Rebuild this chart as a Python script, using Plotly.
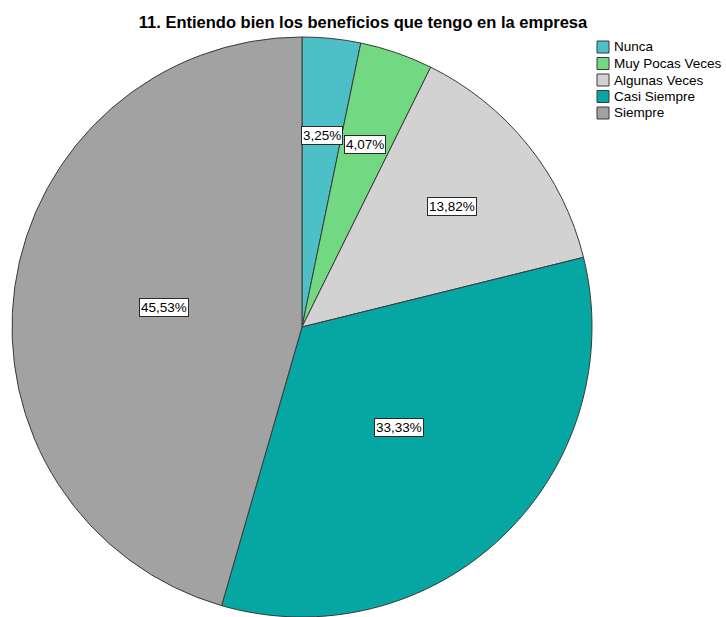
import math
import plotly.graph_objects as go

# Survey answers and their shares (%)
categories = ["Nunca", "Muy Pocas Veces", "Algunas Veces", "Casi Siempre", "Siempre"]
percentages = [3.25, 4.07, 13.82, 33.33, 45.53]
colors = ["#4cc0c6", "#72d982", "#d2d2d2", "#06a6a2", "#a2a2a2"]

FONT = "Arial, Liberation Sans, sans-serif"
W, H = 726, 617
# pie box in pixels (left, top, size)
left_px, top_px, size_px = 12, 37, 580
dom_x = [left_px / W, (left_px + size_px) / W]
dom_y = [1 - (top_px + size_px) / H, 1 - top_px / H]

fig = go.Figure(go.Pie(
    labels=categories,
    values=percentages,
    marker=dict(colors=colors, line=dict(color="#3a3a3a", width=1)),
    sort=False,
    direction="clockwise",
    rotation=0,
    textinfo="none",
    hoverinfo="label+percent",
    showlegend=False,
    domain=dict(x=dom_x, y=dom_y),
))

# boxed value labels placed along each slice's mid-angle
cx = left_px + size_px / 2
cy = top_px + size_px / 2
r = size_px / 2
total = sum(percentages)
cum = 0.0
annotations = []
for cat, p in zip(categories, percentages):
    mid = (cum + p / 2) / total * 2 * math.pi
    cum += p
    frac = 0.48 if p / total > 0.25 else 0.665
    px = cx + r * frac * math.sin(mid)
    py = cy - r * frac * math.cos(mid)
    annotations.append(dict(
        x=px / W, y=1 - py / H, xref="paper", yref="paper",
        xanchor="center", yanchor="middle",
        text=f"{p:.2f}%".replace(".", ","), showarrow=False,
        font=dict(family=FONT, size=13.5, color="#000"),
        bgcolor="#ffffff", bordercolor="#2a2a2a", borderwidth=1, borderpad=1,
    ))

# legend: colour swatch + category name for each slice
shapes = []
leg_x, leg_y0, leg_step, sw = 597, 47, 16.5, 12
for i, (cat, col) in enumerate(zip(categories, colors)):
    yc = leg_y0 + i * leg_step
    shapes.append(dict(
        type="rect", xref="paper", yref="paper",
        x0=leg_x / W, x1=(leg_x + sw) / W,
        y0=1 - (yc + sw / 2) / H, y1=1 - (yc - sw / 2) / H,
        fillcolor=col, line=dict(color="#3a3a3a", width=1),
    ))
    annotations.append(dict(
        x=(leg_x + sw + 3) / W, y=1 - yc / H, xref="paper", yref="paper",
        xanchor="left", yanchor="middle", text=cat, showarrow=False,
        font=dict(family=FONT, size=13.5, color="#000"),
    ))

fig.update_layout(
    width=W, height=H,
    margin=dict(l=0, r=0, t=0, b=0),
    paper_bgcolor="#ffffff",
    showlegend=False,
    title=dict(
        text="<b>11. Entiendo bien los beneficios que tengo en la empresa</b>",
        x=0.5, xanchor="center", y=1 - 22 / H, yanchor="middle",
        font=dict(family=FONT, size=16.5, color="#000"),
    ),
    annotations=annotations,
    shapes=shapes,
)

fig.write_html("out.html")
